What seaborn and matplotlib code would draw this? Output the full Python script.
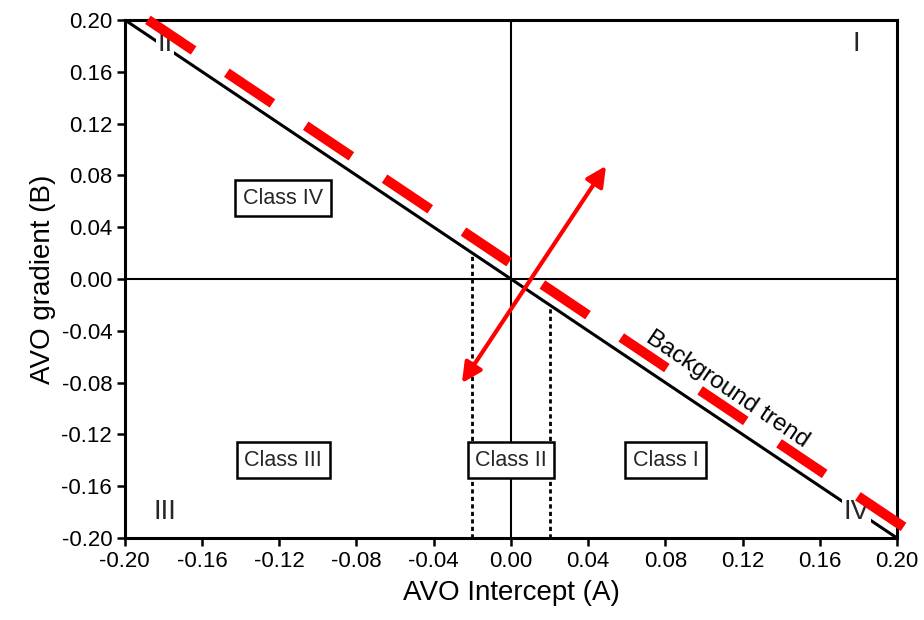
import matplotlib
matplotlib.use("Agg")
import matplotlib.pyplot as plt
import seaborn as sns
import pandas as pd

# ---- data ----
trend_x = [-0.20, 0.20]
trend_b = [0.20, -0.20]
red_x = [-0.188, 0.225]
red_b = [0.200, -0.213]
arrow_start = (-0.0254, -0.0803)
arrow_end = (0.0492, 0.0873)
cutoff_x = [-0.02, 0.02]
class_labels = ["Class IV", "Class III", "Class II", "Class I"]
class_x = [-0.118, -0.118, 0.0, 0.080]
class_y = [0.0625, -0.14, -0.14, -0.14]
quad_labels = ["I", "II", "III", "IV"]
quad_x = [0.179, -0.179, -0.179, 0.179]
quad_y = [0.181, 0.181, -0.180, -0.180]
ticks = [-0.20, -0.16, -0.12, -0.08, -0.04, 0.00, 0.04, 0.08, 0.12, 0.16, 0.20]

sns.set_style("white")
plt.rcParams['font.family'] = ['Liberation Sans', 'DejaVu Sans']

fig, ax = plt.subplots(figsize=(9.24, 6.2), dpi=100)
fig.subplots_adjust(left=0.135, right=0.971, top=0.968, bottom=0.132)

ax.set_xlim(-0.2, 0.2)
ax.set_ylim(-0.2, 0.2)

# zero lines
ax.axhline(0, color="black", lw=1.5, zorder=1)
ax.axvline(0, color="black", lw=1.5, zorder=1)

# background trend line
sns.lineplot(x=trend_x, y=trend_b, ax=ax, color="black", lw=2.2, zorder=2)

# dotted cutoffs
for cx in cutoff_x:
    ax.plot([cx, cx], [-0.2, -cx], color="black", lw=2.0,
            linestyle=(0, (1.5, 1.2)), zorder=2)

# red dashed trend
df_red = pd.DataFrame({"A": red_x, "B": red_b})
sns.lineplot(data=df_red, x="A", y="B", ax=ax, color="#ff0000", lw=7.2, zorder=3)
red_line = ax.lines[-1]
red_line.set_dashes((5.5, 4.0))
red_line.set_dash_capstyle("butt")
red_line.set_clip_on(False)

# double arrow
ax.annotate("", xy=arrow_end, xytext=arrow_start,
            arrowprops=dict(arrowstyle="<|-|>", color="#ff0000", lw=3,
                            mutation_scale=30, shrinkA=0, shrinkB=0), zorder=4)

# class labels
for lab, x, y in zip(class_labels, class_x, class_y):
    ax.text(x, y, lab, ha="center", va="center", fontsize=15.5, zorder=5,
            bbox=dict(boxstyle="square,pad=0.35", fc="white", ec="black", lw=1.8))

# quadrant labels
for lab, x, y in zip(quad_labels, quad_x, quad_y):
    ax.text(x, y, lab, ha="center", va="center", fontsize=20, zorder=2.5,
            bbox=dict(boxstyle="square,pad=0.05", fc="white", ec="none"))

ax.text(0.112, -0.085, "Background trend", ha="center", va="center",
        rotation=-34, fontsize=17.5, zorder=5, color="black",
        rotation_mode="anchor")

ax.set_xticks(ticks)
ax.set_yticks(ticks)
ax.set_xticklabels([f"{t:.2f}" for t in ticks], fontsize=16)
ax.set_yticklabels([f"{t:.2f}" for t in ticks], fontsize=16)
ax.tick_params(axis="both", direction="out", length=6, width=1.8, color="black",
               labelcolor="black", bottom=True, left=True, pad=3)
for s in ax.spines.values():
    s.set_color("black")
    s.set_linewidth(2.2)

ax.set_xlabel("AVO Intercept (A)", fontsize=20, labelpad=6, color="black")
ax.set_ylabel("AVO gradient (B)", fontsize=20, labelpad=4, color="black")

fig.savefig("out.png", dpi=100)
